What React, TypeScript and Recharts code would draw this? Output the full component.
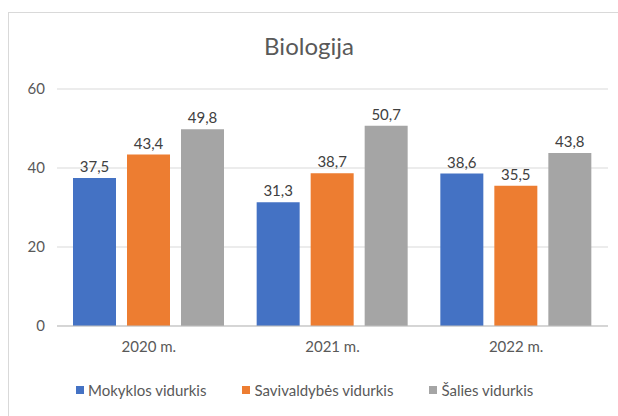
import React from "react";
import { BarChart, Bar, XAxis, YAxis, CartesianGrid, LabelList } from "recharts";

// values
const years = ["2020 m.", "2021 m.", "2022 m."];
const mokyklos = [37.5, 31.3, 38.6];
const savivaldybes = [43.4, 38.7, 35.5];
const salies = [49.8, 50.7, 43.8];
const yTicks = [0, 20, 40, 60];

const seriesNames = ["Mokyklos vidurkis", "Savivaldybės vidurkis", "Šalies vidurkis"];
const colors = ["#4472C4", "#ED7D31", "#A5A5A5"];

const data = years.map((y, i) => ({
  year: y,
  mokyklos: mokyklos[i],
  savivaldybes: savivaldybes[i],
  salies: salies[i],
}));

const FONT = "Lato, 'Open Sans', sans-serif";

const fmt = (v: any) => String(v).replace(".", ",");

export default function App() {
  const keys = ["mokyklos", "savivaldybes", "salies"];
  return (
    <div
      style={{
        position: "absolute",
        left: 0,
        top: 0,
        width: 618,
        height: 416,
        background: "#fff",
        overflow: "hidden",
        fontFamily: FONT,
      }}
    >
      {/* chart frame, only top/left edges are visible in the crop */}
      <div
        style={{
          position: "absolute",
          left: 8,
          top: 12,
          width: 640,
          height: 440,
          border: "1px solid #d9d9d9",
        }}
      />
      <div
        style={{
          position: "absolute",
          top: 31,
          left: 0,
          width: 618,
          textAlign: "center",
          fontSize: 24,
          color: "#595959",
        }}
      >
        Biologija
      </div>
      <div style={{ position: "absolute", left: 0, top: 0 }}>
        <BarChart
          width={618}
          height={416}
          data={data}
          margin={{ top: 89, right: 10, left: 0, bottom: 60 }}
          barGap={11}
          barCategoryGap={16}
        >
          <CartesianGrid vertical={false} stroke="#d9d9d9" />
          <XAxis
            dataKey="year"
            height={30}
            tickLine={false}
            axisLine={{ stroke: "#bfbfbf" }}
            tick={{ fill: "#595959", fontSize: 15, fontFamily: FONT }}
            tickMargin={9}
          />
          <YAxis
            width={57}
            domain={[0, 60]}
            ticks={yTicks}
            tickLine={false}
            axisLine={false}
            tickSize={0}
            tickMargin={12}
            tick={{ fill: "#595959", fontSize: 15, fontFamily: FONT }}
          />
          {keys.map((k, i) => (
            <Bar key={k} dataKey={k} name={seriesNames[i]} fill={colors[i]} isAnimationActive={false}>
              <LabelList
                dataKey={k}
                position="top"
                offset={6}
                formatter={fmt}
                style={{ fill: "#404040", fontSize: 15, fontFamily: FONT }}
              />
            </Bar>
          ))}
        </BarChart>
      </div>
      {/* legend */}
      <div
        style={{
          position: "absolute",
          top: 381,
          left: 76,
          display: "flex",
          gap: 36,
          fontSize: 15,
          color: "#595959",
        }}
      >
        {seriesNames.map((n, i) => (
          <div key={n} style={{ display: "flex", alignItems: "center" }}>
            <span
              style={{
                display: "inline-block",
                width: 8,
                height: 8,
                background: colors[i],
                marginRight: 4,
              }}
            />
            <span>{n}</span>
          </div>
        ))}
      </div>
    </div>
  );
}
